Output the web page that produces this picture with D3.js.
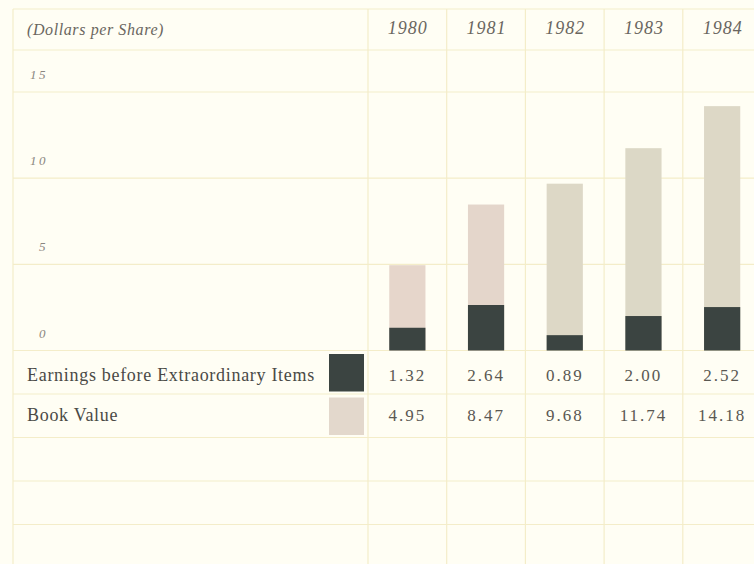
<!DOCTYPE html>
<html>
<head>
<meta charset="utf-8">
<script src="https://cdn.jsdelivr.net/npm/d3@7"></script>
<style>
  html, body { margin: 0; padding: 0; background: #fffef4; }
  svg { display: block; }
</style>
</head>
<body>
<div id="chart"></div>
<script>
// ---- data ----
const years = ["1980", "1981", "1982", "1983", "1984"];
const earnings = [1.32, 2.64, 0.89, 2.00, 2.52];
const bookValue = [4.95, 8.47, 9.68, 11.74, 14.18];
const earningsLabels = ["1.32", "2.64", "0.89", "2.00", "2.52"];
const bookLabels = ["4.95", "8.47", "9.68", "11.74", "14.18"];
const yTicks = [0, 5, 10, 15];
const seriesNames = ["Earnings before Extraordinary Items", "Book Value"];
const unitLabel = "(Dollars per Share)";

// ---- layout ----
const W = 754, H = 564;
const bg = "#fffef4";
const gridColor = "#f4edc9";
const darkColor = "#3b4441";
const lightColor = "#e3d8cc";
const bookColors = ["#e6d6cb", "#e4d6cb", "#ddd8c6", "#dcd8c6", "#ddd8c6"];
const serif = "'Liberation Serif', 'DejaVu Serif', serif";

const svg = d3.select("#chart").append("svg")
  .attr("width", W).attr("height", H);

svg.append("rect").attr("width", W).attr("height", H).attr("fill", bg);

const x = d3.scaleBand()
  .domain(years)
  .range([368, 368 + 5 * 78.7])
  .paddingInner(0.54)
  .paddingOuter(0.27);

const y = d3.scaleLinear().domain([0, 15]).range([350.5, 92]);
const rowH = 43.5;

// grid: horizontal
const hLines = [9, 50].concat(yTicks.map(t => y(t)))
  .concat(d3.range(1, 5).map(k => y(0) + k * rowH));
svg.append("g").selectAll("line").data(hLines).join("line")
  .attr("x1", 13).attr("x2", W)
  .attr("y1", d => d).attr("y2", d => d)
  .attr("stroke", gridColor).attr("stroke-width", 1.2);

// grid: vertical
const step = x.step();
const x0 = x.range()[0];
const vLines = [13].concat(d3.range(0, 6).map(i => x0 + i * step));
svg.append("g").selectAll("line").data(vLines).join("line")
  .attr("x1", d => d).attr("x2", d => d)
  .attr("y1", 9).attr("y2", H)
  .attr("stroke", gridColor).attr("stroke-width", 1.2);

// header
svg.append("text")
  .attr("x", 27).attr("y", 35)
  .attr("font-family", serif).attr("font-style", "italic")
  .attr("font-size", 16).attr("fill", "#6a6660")
  .attr("letter-spacing", 0.6)
  .text(unitLabel);

svg.append("g").selectAll("text").data(years).join("text")
  .attr("x", d => x(d) + x.bandwidth() / 2 + 0.5)
  .attr("y", 34)
  .attr("text-anchor", "middle")
  .attr("font-family", serif).attr("font-style", "italic")
  .attr("font-size", 18).attr("fill", "#6a6660")
  .attr("letter-spacing", 1)
  .text(d => d);

// y tick labels
svg.append("g").selectAll("text").data(yTicks).join("text")
  .attr("x", 48)
  .attr("y", d => y(d) - 13)
  .attr("text-anchor", "end")
  .attr("font-family", serif).attr("font-style", "italic")
  .attr("font-size", 13).attr("fill", "#8a8680")
  .attr("letter-spacing", 2.5)
  .text(d => d);

// bars: book value (behind)
svg.append("g").selectAll("rect").data(bookValue).join("rect")
  .attr("x", (d, i) => x(years[i]))
  .attr("width", x.bandwidth())
  .attr("y", d => y(d))
  .attr("height", d => y(0) - y(d))
  .attr("fill", (d, i) => bookColors[i]);

// bars: earnings (front)
svg.append("g").selectAll("rect").data(earnings).join("rect")
  .attr("x", (d, i) => x(years[i]))
  .attr("width", x.bandwidth())
  .attr("y", d => y(d))
  .attr("height", d => y(0) - y(d))
  .attr("fill", darkColor);

// legend rows
const rowBase = [y(0) + 30, y(0) + rowH + 27];
svg.append("g").selectAll("text").data(seriesNames).join("text")
  .attr("x", 27)
  .attr("y", (d, i) => rowBase[i])
  .attr("font-family", serif)
  .attr("font-size", 18).attr("fill", "#4a4a46")
  .attr("letter-spacing", 0.7)
  .text(d => d);

const swatchColors = [darkColor, lightColor];
svg.append("g").selectAll("rect").data(swatchColors).join("rect")
  .attr("x", 329)
  .attr("y", (d, i) => y(0) + 3.5 + i * rowH)
  .attr("width", 35).attr("height", 37.5)
  .attr("fill", d => d);

// value rows
[earningsLabels, bookLabels].forEach((labels, r) => {
  svg.append("g").selectAll("text").data(labels).join("text")
    .attr("x", (d, i) => x(years[i]) + x.bandwidth() / 2)
    .attr("y", rowBase[r])
    .attr("text-anchor", "middle")
    .attr("font-family", serif)
    .attr("font-size", 17).attr("fill", "#5a5852")
    .attr("letter-spacing", 2)
    .text(d => d);
});
</script>
</body>
</html>
